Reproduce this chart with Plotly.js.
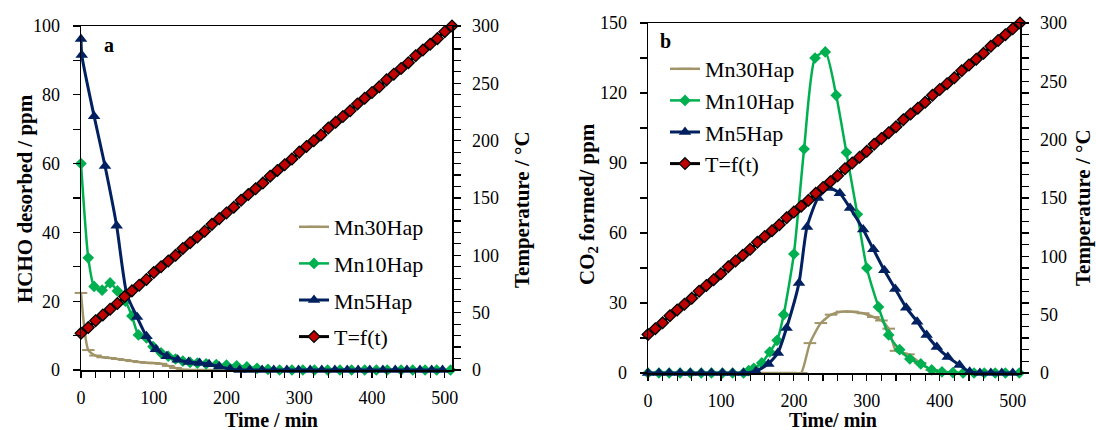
<!DOCTYPE html>
<html><head><meta charset="utf-8">
<script src="https://cdn.plot.ly/plotly-3.0.1.min.js"></script>
<style>html,body{margin:0;padding:0;background:#fff}#chart{width:1096px;height:430px}</style>
</head><body><div id="chart"></div>
<script>
// ---------- shared temperature time base (min) ----------
const timeT = [0,10,20,30,40,50,60,70,80,90,100,110,120,130,140,150,160,170,180,190,200,210,220,230,240,250,260,270,280,290,300,310,320,330,340,350,360,370,380,390,400,410,420,430,440,450,460,470,480,490,500,510];

// ---------- panel a : HCHO desorbed ----------
const tempA = [32,37,43,48,53,58,64,69,74,79,85,90,95,100,106,111,116,121,127,132,137,142,148,153,158,163,169,174,179,184,190,195,200,205,211,216,221,226,232,237,242,247,253,258,263,268,274,279,284,289,295,300];

const timeA30 = [0,10,20,30,40,50,60,70,80,90,100,110,120,130,140,150,170,190,210,230,250,270,290,310,330,350,370,390,410,430,450,470,490,510];
const hchoMn30 = [22.4,5.8,4.2,3.7,3.5,3.2,2.9,2.6,2.3,2.1,2.0,1.8,1.2,0.6,0.1,0,0,0,0,0,0,0,0,0,0,0,0,0,0,0,0,0,0,0];

const timeA10 = [0,10,18,29,40,50,61,70,79,90,99,110,120,130,140,150,160,172,186,200,214,228,242,257,273,290,305,321,339,356,372,390,406,421,440,456,473,489,508];
const hchoMn10 = [60,32.6,24.3,23.2,25.3,23,20,15.7,10.2,9.3,6.8,5,4,3.2,2.6,2.2,2,1.8,1.6,1.4,1.2,0.9,0.5,0.2,0,0,0,0,0,0,0,0,0,0,0,0,0,0,0];

const timeA5 = [0,1,18,33,49,63,77,90,103,118,133,148,163,176,190,205,218,232,249,265,283,299,315,331,349,366,381,397,415,432,448,466,482,497];
const hchoMn5 = [96.2,91.6,73.8,59.3,41.9,22,15.4,9.8,6,4,3,2.3,2,1.7,1,0.3,0,0,0,0,0,0,0,0,0,0,0,0,0,0,0,0,0,0];

// ---------- panel b : CO2 formed ----------
const tempB = [33,38,43,49,54,59,64,70,75,80,85,91,96,101,106,112,117,122,127,133,138,143,148,154,159,164,169,175,180,185,190,196,201,206,211,217,222,227,232,238,243,248,253,259,264,269,274,280,285,290,295,300];

const timeB30 = [0,15,29,44,58,73,87,102,116,131,145,160,174,189,203,210,222,237,251,266,280,295,309,320,330,340,357,373,389,404,420,435,450,465,480,495,510];
const co2Mn30 = [0,0,0,0,0,0,0,0,0,0,0,0,0,0,0,0,12.8,21.4,25,26.3,26.3,25.6,24,22.5,19,9.5,8,4.3,1.3,0.2,0,0,0,0,0,0,0];

const timeB10 = [0,15,29,44,58,73,87,102,116,131,138,145,156,167,177,186,200,214,229,243,258,272,287,300,316,330,345,359,374,389,403,418,432,447,461,476,490,509];
const co2Mn10 = [0,0,0,0,0,0,0,0,0,0,1,2,4.3,9,14,25,51,96,135,137.6,119,94.5,68,45,28.3,16.3,10,6,3.9,1.3,0.5,0.2,0,0,0,0,0,0];

const timeB5 = [0,15,29,44,58,73,87,102,116,131,148,165,178,190,207,218,233,248,263,277,295,309,324,339,354,369,382,396,411,427,441,455,470,485,500];
const co2Mn5 = [0,0,0,0,0,0,0,0,0,0,0.8,3.9,8.6,19.3,38.6,62.6,75,79.3,77,70.7,61.5,53,44,36,28,22,16.3,11.1,6.9,3.4,0.5,0,0,0,0];

const names = ['Mn30Hap','Mn10Hap','Mn5Hap','T=f(t)'];

// ---------- styling ----------
const FONT = '"Liberation Serif", serif';
const C30 = '#A09468', C10 = '#00B050', C5 = '#002060', CRED = '#C00000';
const SM = 0.6;

function series(x, y, name, xa, ya, leg, style) {
  return Object.assign({
    type: 'scatter', mode: 'lines+markers', x: x, y: y, name: name,
    xaxis: xa, yaxis: ya, legend: leg, legendgroup: leg + name, cliponaxis: false
  }, style);
}
const s30 = {line:{color:C30,width:2.5,shape:'spline',smoothing:SM}, marker:{symbol:'line-ew',size:9,color:C30,line:{color:C30,width:2}}};
const s10 = {line:{color:C10,width:2.5,shape:'spline',smoothing:SM}, marker:{symbol:'diamond',size:9,color:C10}};
const s5  = {line:{color:C5,width:3,shape:'spline',smoothing:SM}, marker:{symbol:'triangle-up',size:11,color:C5}};
const sT  = {line:{color:'#000',width:3}, marker:{symbol:'diamond',size:9,color:CRED,line:{color:'#000',width:1.3}}};

const data = [
  series(timeA30, hchoMn30, names[0], 'x', 'y', 'legend', s30),
  series(timeA10, hchoMn10, names[1], 'x', 'y', 'legend', s10),
  series(timeA5, hchoMn5, names[2], 'x', 'y', 'legend', s5),
  series(timeT, tempA, names[3], 'x', 'y2', 'legend', sT),
  series(timeB30, co2Mn30, names[0], 'x2', 'y3', 'legend2', s30),
  series(timeB10, co2Mn10, names[1], 'x2', 'y3', 'legend2', s10),
  series(timeB5, co2Mn5, names[2], 'x2', 'y3', 'legend2', s5),
  series(timeT, tempB, names[3], 'x2', 'y4', 'legend2', sT)
];

const tickFont = {family: FONT, size: 18, color: '#000'};
function xAx(dom, anchor) {
  return {domain: dom, anchor: anchor, range: [0, 510], dtick: 100, tick0: 0,
    ticks: 'outside', ticklen: 6, tickwidth: 1.2, tickcolor: '#000',
    minor: {dtick: 20, tick0: 0, ticks: 'outside', ticklen: 6, tickwidth: 1.2, tickcolor: '#000'},
    showline: true, linecolor: '#000', linewidth: 1.5, mirror: true,
    showgrid: false, zeroline: false, tickfont: tickFont, ticklabelstandoff: 5};
}
function yAx(dom, anchor, max, dt, mdt, side, over) {
  const a = {domain: dom, anchor: anchor, range: [0, max], dtick: dt, tick0: 0, side: side,
    ticks: 'outside', ticklen: 7, tickwidth: 1.2, tickcolor: '#000',
    minor: {dtick: mdt, tick0: 0, ticks: 'outside', ticklen: 7, tickwidth: 1.2, tickcolor: '#000'},
    showline: true, linecolor: '#000', linewidth: 1.5,
    showgrid: false, zeroline: false, tickfont: tickFont, ticklabelstandoff: side === 'left' ? 9 : 8};
  if (over) { a.overlaying = over; delete a.domain; }
  return a;
}

const dA = [81/1096, 452/1096], dB = [648/1096, 1020/1096];
const vA = [1-370/430, 1-26/430], vB = [1-373/430, 1-23/430];

function ann(text, x, y, angle, size) {
  return {text: text, x: x/1096, y: 1 - y/430, xref: 'paper', yref: 'paper',
    xanchor: 'center', yanchor: 'middle', showarrow: false, textangle: angle || 0,
    font: {family: FONT, size: size || 21, color: '#000'}};
}

const legendBase = {xanchor: 'left', yanchor: 'top', bgcolor: 'rgba(0,0,0,0)', borderwidth: 0,
  font: {family: FONT, size: 22, color: '#000'}, traceorder: 'grouped'};

const layout = {
  width: 1096, height: 430, margin: {l: 0, r: 0, t: 0, b: 0},
  paper_bgcolor: '#fff', plot_bgcolor: 'rgba(0,0,0,0)', showlegend: true,
  font: {family: FONT, color: '#000'},
  xaxis: xAx(dA, 'y'),
  yaxis: yAx(vA, 'x', 100, 20, 10, 'left'),
  yaxis2: yAx(vA, 'x', 300, 50, 10, 'right', 'y'),
  xaxis2: xAx(dB, 'y3'),
  yaxis3: yAx(vB, 'x2', 150, 30, 15, 'left'),
  yaxis4: yAx(vB, 'x2', 300, 50, 10, 'right', 'y3'),
  legend: Object.assign({x: 294/1096, y: 1 - 206/430, tracegroupgap: 5}, legendBase),
  legend2: Object.assign({x: 665/1096, y: 1 - 48/430, tracegroupgap: 0}, legendBase),
  annotations: [
    ann('<b>HCHO desorbed / ppm</b>', 25, 199, -90),
    ann('<b>Temperature / °C</b>', 522, 210, -90),
    ann('<b>Time / min</b>', 271, 420, 0, 20),
    ann('<b>a</b>', 109, 45, 0, 20),
    ann('<b>CO<sub>2</sub> formed/ ppm</b>', 588, 204, -90),
    ann('<b>Temperature / °C</b>', 1083, 208, -90),
    ann('<b>Time/ min</b>', 833, 420, 0, 20),
    ann('<b>b</b>', 665, 41, 0, 20)
  ]
};

Plotly.newPlot('chart', data, layout, {staticPlot: true, displayModeBar: false});
</script>
</body></html>
